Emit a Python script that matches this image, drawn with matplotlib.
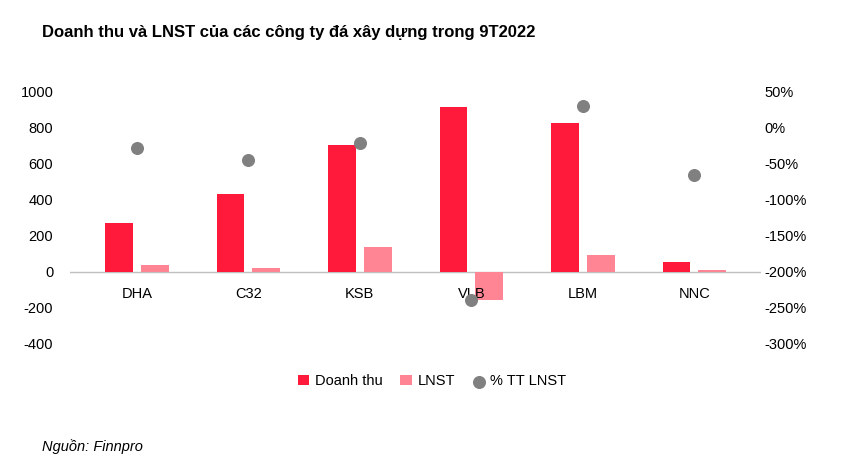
import numpy as np
import matplotlib.pyplot as plt
from matplotlib.ticker import FuncFormatter
from matplotlib.transforms import offset_copy

plt.rcParams['font.family'] = ['Liberation Sans', 'DejaVu Sans']
plt.rcParams['axes.unicode_minus'] = False

companies = ['DHA', 'C32', 'KSB', 'VLB', 'LBM', 'NNC']
doanh_thu = [270, 430, 700, 915, 825, 55]
lnst = [38, 22, 140, -155, 95, 10]
pct_tt_lnst = [-29, -45, -21, -239, 30, -66]

fig = plt.figure(figsize=(8.64, 4.68), dpi=100)
ax = fig.add_axes([0.081, 0.265, 0.80, 0.54])
ax2 = ax.twinx()

x = np.arange(len(companies))
w = 0.25
ax.bar(x - 0.16, doanh_thu, w, color='#FF1A3C', label='Doanh thu', zorder=2)
ax.bar(x + 0.16, lnst, w, color='#FF8595', label='LNST', zorder=2)
ax2.scatter(x + 0.0, pct_tt_lnst, s=70, color='#808080', label='% TT LNST', zorder=3)

ax.set_ylim(-400, 1000)
ax.set_yticks(range(-400, 1001, 200))
ax2.set_ylim(-300, 50)
ax2.set_yticks(range(-300, 51, 50))
ax2.yaxis.set_major_formatter(FuncFormatter(lambda v, p: f'{int(v)}%'))
ax.set_xlim(-0.6, 5.6)
ax.set_xticks([])
lbl_tr = offset_copy(ax.transData, fig=fig, y=-22, units='dots')
for xi, name in zip(x, companies):
    ax.text(xi, 0, name, transform=lbl_tr, ha='center', va='center', fontsize=10.5, zorder=5)
ax.axhline(0, color='#BFBFBF', lw=1, zorder=1)
ax.tick_params(axis='y', length=0, labelsize=10.5, pad=12)
ax2.tick_params(axis='y', length=0, labelsize=10.5, pad=2)
for a in (ax, ax2):
    for s in a.spines.values():
        s.set_visible(False)

h1, l1 = ax.get_legend_handles_labels()
h2, l2 = ax2.get_legend_handles_labels()
fig.legend(h1 + h2, l1 + l2, loc='center', bbox_to_anchor=(0.5, 0.185), ncol=3,
           frameon=False, fontsize=10.5, handlelength=0.8, handletextpad=0.4, columnspacing=1.2)

fig.text(0.049, 0.93, 'Doanh thu và LNST của các công ty đá xây dựng trong 9T2022',
         fontsize=12, fontweight='bold', va='center')
fig.text(0.049, 0.045, 'Nguồn: Finnpro', fontsize=10.5, style='italic', va='center')

fig.savefig('out.png', dpi=100)
